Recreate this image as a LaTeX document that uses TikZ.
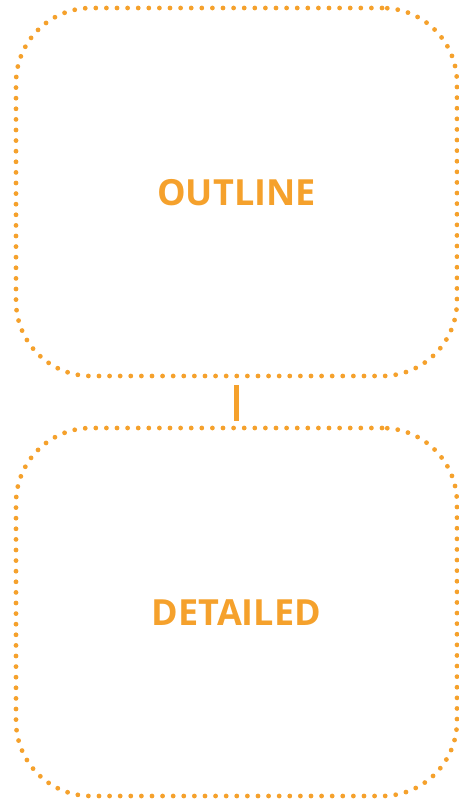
\documentclass[tikz,border=0pt]{standalone}
\usepackage{fontspec}
\setmainfont{Open Sans}
\definecolor{accent}{HTML}{F5A12C}
\newcommand{\boxlabel}[1]{\raisebox{-13.9pt}[0pt][0pt]{#1}}
\begin{document}
\begin{tikzpicture}[x=1pt,y=-1pt,
  box/.style={draw=accent, line width=4.8pt, line cap=round, dash pattern=on 0pt off 10.6pt,
    rounded corners=75pt, minimum width=441pt, minimum height=368pt, inner sep=0pt,
    font=\fontsize{36}{42}\selectfont\bfseries, text=accent},
  link/.style={draw=accent, line width=5pt}]
\useasboundingbox (0,0) rectangle (458,802);
\node[box] (outline) at (236.5,192) {\boxlabel{OUTLINE}};
\node[box] (detailed) at (236.5,612) {\boxlabel{DETAILED}};
\draw[link] ([yshift=-7pt]outline.south) -- ([yshift=5pt]detailed.north);
\end{tikzpicture}
\end{document}
